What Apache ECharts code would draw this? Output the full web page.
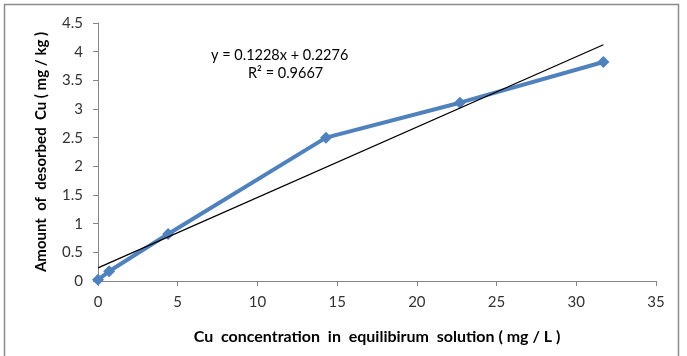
<!DOCTYPE html>
<html>
<head>
<meta charset="utf-8">
<script src="https://cdn.jsdelivr.net/npm/echarts@6/dist/echarts.min.js"></script>
<style>
html,body{margin:0;padding:0;background:#fff;}
#c{width:687px;height:356px;}
</style>
</head>
<body>
<div id="c"></div>
<script>
// Data
var xValues = [0, 0.7, 4.4, 14.3, 22.7, 31.7];
var yValues = [0.02, 0.17, 0.82, 2.5, 3.11, 3.82];
var trendSlope = 0.1228;
var trendIntercept = 0.2276;
var equationText = 'y = 0.1228x + 0.2276';
var r2Text = 'R\u00B2 = 0.9667';
var xAxisTitle = 'Cu  concentration  in  equilibirum  solution ( mg / L )';
var yAxisTitle = 'Amount  of  desorbed  Cu ( mg / kg )';

var points = xValues.map(function (x, i) { return [x, yValues[i]]; });
var xMin = Math.min.apply(null, xValues), xMax = Math.max.apply(null, xValues);
var trend = [[xMin, trendSlope * xMin + trendIntercept], [xMax, trendSlope * xMax + trendIntercept]];

var chart = echarts.init(document.getElementById('c'));
var font = 'Lato, "Liberation Sans", sans-serif';
chart.setOption({
  animation: false,
  backgroundColor: '#fff',
  grid: { left: 98, right: 31, top: 23, bottom: 75 },
  xAxis: {
    type: 'value', min: 0, max: 35, interval: 5,
    axisLine: { show: true, lineStyle: { color: '#868686', width: 1 } },
    axisTick: { show: true, length: 5, lineStyle: { color: '#868686' } },
    splitLine: { show: false },
    axisLabel: { color: '#333', fontFamily: font, fontSize: 15, margin: 14 },
    name: xAxisTitle, nameLocation: 'middle', nameGap: 48,
    nameTextStyle: { color: '#000', fontFamily: font, fontSize: 16, fontWeight: 'bold' }
  },
  yAxis: {
    type: 'value', min: 0, max: 4.5, interval: 0.5,
    axisLine: { show: true, lineStyle: { color: '#868686', width: 1 } },
    axisTick: { show: true, length: 5, lineStyle: { color: '#868686' } },
    splitLine: { show: false },
    axisLabel: { color: '#333', fontFamily: font, fontSize: 15, margin: 15 },
    name: yAxisTitle, nameLocation: 'middle', nameGap: 49,
    nameTextStyle: { color: '#000', fontFamily: font, fontSize: 15, fontWeight: 'bold' }
  },
  graphic: [
    { type: 'rect', shape: { x: 4.5, y: 4.5, width: 674, height: 380 }, style: { fill: 'none', stroke: '#8c8c8c', lineWidth: 1.5 }, silent: true },
    { type: 'text', left: 211, top: 48, style: { text: equationText, font: '14.5px ' + font, fill: '#000' } },
    { type: 'text', left: 248, top: 66, style: { text: r2Text, font: '14.5px ' + font, fill: '#000' } }
  ],
  series: [
    {
      type: 'line', data: points, symbol: 'diamond', symbolSize: 12,
      lineStyle: { color: '#4F81BD', width: 4 },
      itemStyle: { color: '#4F81BD' }, z: 2
    },
    {
      type: 'line', data: trend, symbol: 'none',
      lineStyle: { color: '#000', width: 1.3 }, z: 3
    }
  ]
});
</script>
</body>
</html>
